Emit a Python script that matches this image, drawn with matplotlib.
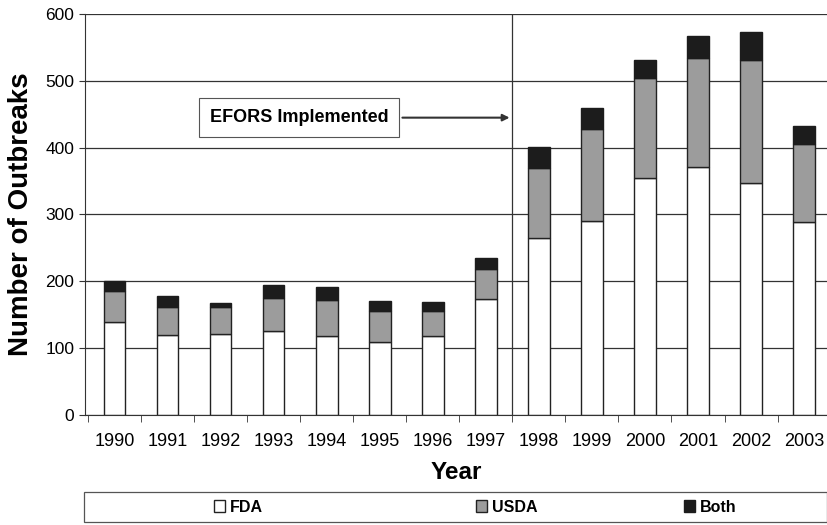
import numpy as np
import matplotlib.pyplot as plt
from matplotlib.patches import Rectangle

years = ["1990", "1991", "1992", "1993", "1994", "1995", "1996",
         "1997", "1998", "1999", "2000", "2001", "2002", "2003"]
fda = [139, 119, 121, 126, 118, 109, 118, 173, 264, 290, 355, 371, 347, 289]
usda = [47, 42, 40, 49, 54, 47, 38, 46, 106, 138, 150, 163, 184, 117]
both = [14, 17, 7, 19, 20, 15, 13, 16, 31, 32, 27, 33, 42, 26]

plt.rcParams["font.family"] = ["Liberation Sans", "DejaVu Sans"]

fig = plt.figure(figsize=(8.28, 5.25), dpi=100)
ax = fig.add_axes([0.103, 0.21, 0.897, 0.763])

x = np.arange(len(years))
fda = np.array(fda)
usda = np.array(usda)
both = np.array(both)
w = 0.41
b1 = ax.bar(x, fda, w, color="white", edgecolor="#222222", linewidth=1, zorder=2, label="FDA")
b2 = ax.bar(x, usda, w, bottom=fda, color="#9c9c9c", edgecolor="#222222", linewidth=1, zorder=2, label="USDA")
b3 = ax.bar(x, both, w, bottom=fda + usda, color="#1c1c1c", edgecolor="#1c1c1c", linewidth=1, zorder=2, label="Both")

ax.set_xlim(-0.55, 13.45)
ax.set_ylim(0, 600)
ax.set_yticks(range(0, 601, 100))
ax.yaxis.grid(True, color="#333333", linewidth=0.9, zorder=0)
ax.set_axisbelow(True)
ax.set_xticks(x)
ax.set_xticklabels(years, fontsize=13)
ax.tick_params(axis="x", which="major", length=0, pad=13)
ax.set_xticks(np.arange(-0.5, 13.5, 1), minor=True)
ax.tick_params(axis="x", which="minor", length=5, color="#333333")
ax.tick_params(axis="y", labelsize=12.5, length=4, color="#333333", pad=4)
for s in ["top", "right"]:
    ax.spines[s].set_visible(False)
ax.spines["left"].set_color("#333333")
ax.spines["bottom"].set_color("#333333")

ax.axvline(7.5, color="#333333", linewidth=0.9, zorder=1)

ax.annotate("EFORS Implemented", xy=(7.5, 445), xytext=(3.48, 445),
            fontsize=13, fontweight="bold", ha="center", va="center",
            bbox=dict(boxstyle="square,pad=0.6", fc="white", ec="#555555", lw=0.8),
            arrowprops=dict(arrowstyle="-|>", color="#333333", lw=1.5, mutation_scale=10))

ax.set_ylabel("Number of Outbreaks", fontsize=20, fontweight="bold", labelpad=8)
ax.set_xlabel("Year", fontsize=17.5, fontweight="bold", labelpad=8)

fig.patches.append(Rectangle((0.102, 0.006), 0.897, 0.057, transform=fig.transFigure,
                             fill=False, edgecolor="#555555", linewidth=0.9))
for bar, name, xpos in [(b1, "FDA", 0.288), (b2, "USDA", 0.612), (b3, "Both", 0.858)]:
    fig.legend([bar], [name], loc="center", bbox_to_anchor=(xpos, 0.034), frameon=False,
               prop={"size": 11.5, "weight": "bold"}, handlelength=0.7, handleheight=0.7,
               handletextpad=0.3)

fig.savefig("out.png", dpi=100, facecolor="white")
